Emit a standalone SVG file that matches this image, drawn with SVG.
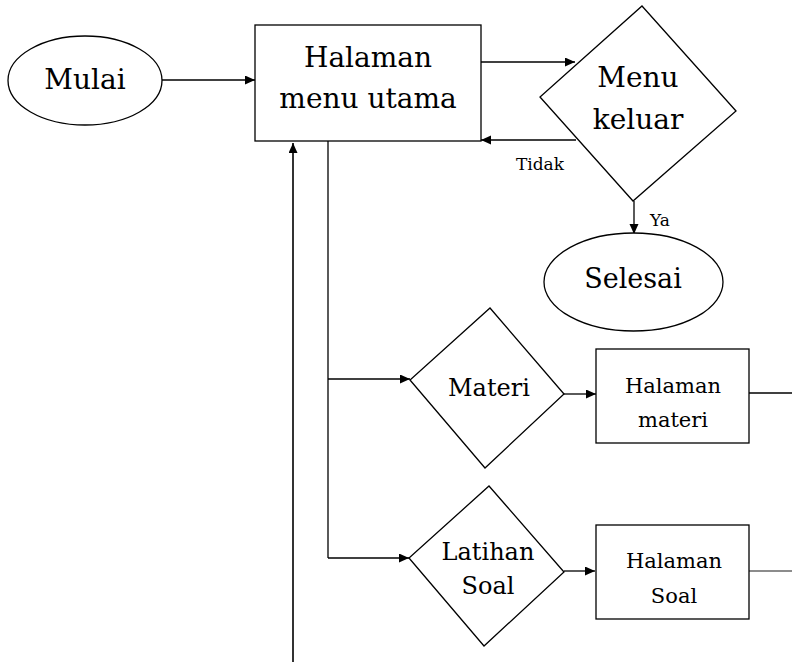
<svg xmlns="http://www.w3.org/2000/svg" width="792" height="662" viewBox="0 0 792 662">
<style>
.s{fill:#fff;stroke:#000;stroke-width:1.3}
.t{font-family:"DejaVu Serif","Liberation Serif",serif;fill:#000;text-anchor:middle}
.c{fill:none;stroke:#000;stroke-width:1.3}
</style>
<defs>
<marker id="a" markerUnits="userSpaceOnUse" markerWidth="11" markerHeight="10" refX="10" refY="4.5" orient="auto">
<path d="M0,0 L10,4.5 L0,9 Z" fill="#000"/>
</marker>
</defs>
<rect width="792" height="662" fill="#fff"/>
<g id="connectors">
<line class="c" x1="162" y1="80" x2="255" y2="80" marker-end="url(#a)"/>
<line class="c" x1="481" y1="62" x2="575" y2="62" marker-end="url(#a)"/>
<line class="c" x1="576" y1="140" x2="481" y2="140" marker-end="url(#a)"/>
<line class="c" x1="634" y1="201" x2="634" y2="234" marker-end="url(#a)"/>
<polyline class="c" points="328,141 328,558"/>
<line class="c" x1="328" y1="379" x2="410" y2="379" marker-end="url(#a)"/>
<line class="c" x1="328" y1="558" x2="409" y2="558" marker-end="url(#a)"/>
<line x1="293" y1="662" x2="293" y2="143" stroke="#333" stroke-width="2" marker-end="url(#a)"/>
<line class="c" x1="564" y1="394" x2="596" y2="394" marker-end="url(#a)"/>
<line class="c" x1="564" y1="571" x2="595" y2="571" marker-end="url(#a)"/>
<line class="c" x1="749" y1="393" x2="792" y2="393"/>
<line x1="749" y1="571" x2="792" y2="571" stroke="#666" stroke-width="1.3"/>
<text class="t" x="540" y="170" font-size="17">Tidak</text>
<text class="t" x="660" y="226" font-size="17">Ya</text>
</g>
<g id="mulai">
<ellipse class="s" cx="85" cy="80.5" rx="77" ry="44.5"/>
<text class="t" x="85" y="89" font-size="28">Mulai</text>
</g>
<g id="halaman-menu-utama">
<rect class="s" x="255" y="25" width="226" height="116"/>
<text class="t" x="368" y="67" font-size="28">Halaman</text>
<text class="t" x="368" y="108" font-size="28">menu utama</text>
</g>
<g id="menu-keluar">
<polygon class="s" points="642,6 736,111 633,201 540,97"/>
<text class="t" x="638" y="87" font-size="28">Menu</text>
<text class="t" x="638" y="129" font-size="28">keluar</text>
</g>
<g id="selesai">
<ellipse class="s" cx="633.5" cy="282" rx="89.5" ry="49"/>
<text class="t" x="633" y="288" font-size="27">Selesai</text>
</g>
<g id="materi">
<polygon class="s" points="490,308 564,394 485,468 410,380"/>
<text class="t" x="489" y="396" font-size="24">Materi</text>
</g>
<g id="halaman-materi">
<rect class="s" x="596" y="349" width="153" height="94"/>
<text class="t" x="673" y="393" font-size="21">Halaman</text>
<text class="t" x="673" y="427" font-size="21">materi</text>
</g>
<g id="latihan-soal">
<polygon class="s" points="489,486 564,572 484,646 409,558"/>
<text class="t" x="488" y="560" font-size="24">Latihan</text>
<text class="t" x="488" y="594" font-size="24">Soal</text>
</g>
<g id="halaman-soal">
<rect class="s" x="596" y="525" width="153" height="94"/>
<text class="t" x="674" y="568" font-size="21">Halaman</text>
<text class="t" x="674" y="603" font-size="21">Soal</text>
</g>
</svg>
